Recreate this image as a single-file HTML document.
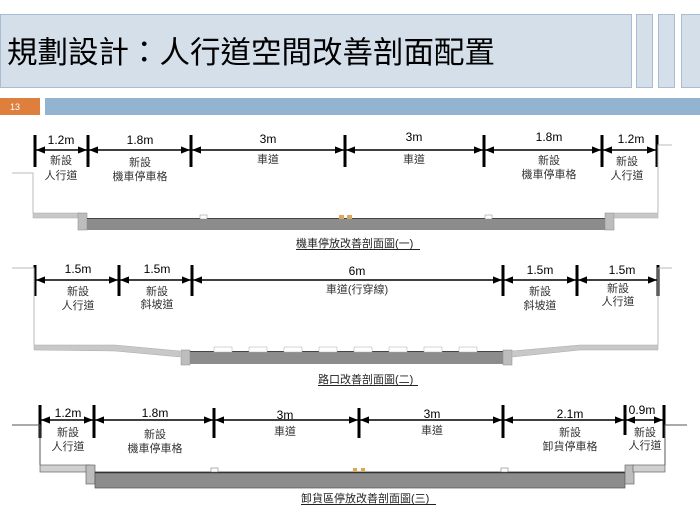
<!DOCTYPE html>
<html><head><meta charset="utf-8"><style>
html,body{margin:0;padding:0;background:#fff;width:700px;height:525px;overflow:hidden}
svg{display:block}
text{font-family:"Liberation Sans","Noto Sans CJK TC",sans-serif}
</style></head><body>
<svg width="700" height="525" viewBox="0 0 700 525" xmlns="http://www.w3.org/2000/svg">
<defs>
<marker id="a" viewBox="0 0 10 10" refX="10" refY="5" markerWidth="6" markerHeight="6" orient="auto-start-reverse"><path d="M0,1 L10,5 L0,9 z" fill="#000"/></marker>
</defs>
<rect x="0.5" y="14.5" width="631" height="73" fill="#d5dfea" stroke="#a9bdd2"/>
<rect x="636.5" y="14.5" width="16" height="73" fill="#d5dfea" stroke="#a9bdd2"/>
<rect x="658.5" y="14.5" width="16" height="73" fill="#d5dfea" stroke="#a9bdd2"/>
<rect x="681.5" y="14.5" width="19" height="73" fill="#d5dfea" stroke="#a9bdd2"/>
<text x="7" y="63" font-size="30.5" fill="#000">規劃設計：人行道空間改善剖面配置</text>
<rect x="0" y="98" width="40" height="17" fill="#df7f3e"/>
<text x="10" y="110" font-size="9" fill="#fff">13</text>
<rect x="45" y="98" width="655" height="17" fill="#93b4d1"/>

<g stroke="#000" stroke-width="3">
<line x1="35" y1="135" x2="35" y2="167"/><line x1="88" y1="135" x2="88" y2="167"/><line x1="191" y1="135" x2="191" y2="167"/><line x1="345" y1="135" x2="345" y2="167"/><line x1="484" y1="135" x2="484" y2="167"/><line x1="602" y1="135" x2="602" y2="167"/><line x1="657" y1="135" x2="657" y2="167"/>
<line x1="35" y1="265" x2="35" y2="296"/><line x1="119" y1="265" x2="119" y2="296"/><line x1="192" y1="265" x2="192" y2="296"/><line x1="503" y1="265" x2="503" y2="296"/><line x1="577" y1="265" x2="577" y2="296"/><line x1="658" y1="265" x2="658" y2="296"/>
<line x1="40" y1="405" x2="40" y2="438"/><line x1="94" y1="405" x2="94" y2="438"/><line x1="214" y1="408" x2="214" y2="438"/><line x1="359" y1="408" x2="359" y2="438"/><line x1="503" y1="405" x2="503" y2="438"/><line x1="625" y1="405" x2="625" y2="435"/><line x1="664" y1="405" x2="664" y2="438"/>
</g>
<g stroke="#000" stroke-width="1.5" marker-start="url(#a)" marker-end="url(#a)">
<line x1="36" y1="150" x2="87" y2="150"/><line x1="89" y1="150" x2="190" y2="150"/><line x1="192" y1="150" x2="344" y2="150"/><line x1="346" y1="150" x2="483" y2="150"/><line x1="485" y1="150" x2="601" y2="150"/><line x1="603" y1="150" x2="656" y2="150"/>
<line x1="36" y1="280" x2="118" y2="280"/><line x1="120" y1="280" x2="191" y2="280"/><line x1="193" y1="280" x2="502" y2="280"/><line x1="504" y1="280" x2="576" y2="280"/><line x1="578" y1="280" x2="657" y2="280"/>
<line x1="41" y1="420" x2="93" y2="420"/><line x1="95" y1="420" x2="213" y2="420"/><line x1="215" y1="420" x2="358" y2="420"/><line x1="360" y1="420" x2="502" y2="420"/><line x1="504" y1="420" x2="624" y2="420"/><line x1="626" y1="420" x2="663" y2="420"/>
</g>
<g font-size="12" fill="#000" text-anchor="middle">
<text x="61" y="144">1.2m</text><text x="140" y="144">1.8m</text><text x="268" y="143">3m</text><text x="414" y="141">3m</text><text x="549" y="141">1.8m</text><text x="631" y="143">1.2m</text>
<text x="78" y="273">1.5m</text><text x="157" y="273">1.5m</text><text x="357" y="275">6m</text><text x="540" y="274">1.5m</text><text x="622" y="274">1.5m</text>
<text x="68" y="417">1.2m</text><text x="155" y="417">1.8m</text><text x="285" y="419">3m</text><text x="432" y="418">3m</text><text x="570" y="418">2.1m</text><text x="642" y="414">0.9m</text>
</g>
<g font-size="11" fill="#333" text-anchor="middle">
<text x="61" y="164">新設</text><text x="61" y="179">人行道</text>
<text x="140" y="166">新設</text><text x="140" y="180">機車停車格</text>
<text x="268" y="163">車道</text><text x="414" y="163">車道</text>
<text x="549" y="164">新設</text><text x="549" y="178">機車停車格</text>
<text x="627" y="165">新設</text><text x="627" y="179">人行道</text>
<text x="78" y="295">新設</text><text x="78" y="309">人行道</text>
<text x="157" y="295">新設</text><text x="157" y="308">斜坡道</text>
<text x="357" y="293">車道(行穿線)</text>
<text x="540" y="295">新設</text><text x="540" y="309">斜坡道</text>
<text x="618" y="292">新設</text><text x="618" y="305">人行道</text>
<text x="68" y="436">新設</text><text x="68" y="450">人行道</text>
<text x="155" y="438">新設</text><text x="155" y="452">機車停車格</text>
<text x="285" y="435">車道</text><text x="432" y="434">車道</text>
<text x="570" y="436">新設</text><text x="570" y="450">卸貨停車格</text>
<text x="645" y="436">新設</text><text x="645" y="449">人行道</text>
</g>
<g fill="none" stroke="#bbb" stroke-width="1">
<polyline points="12,173 33,173 33,213"/><polyline points="658,213 658,145 672,145"/>
<polyline points="12,268 34,268 34,345"/><polyline points="658,345 658,268 672,268"/>
</g>
<polyline points="12,425 40,425 40,465" fill="none" stroke="#555"/>
<polyline points="665,465 665,425 687,425" fill="none" stroke="#555"/>
<rect x="33" y="213" width="47" height="5" fill="#c8c8c8" stroke="#aaa" stroke-width="0.5"/>
<rect x="78" y="213" width="9" height="17" fill="#bdbdbd" stroke="#888" stroke-width="0.5"/>
<rect x="87" y="218" width="518" height="12" fill="#8c8c8c"/>
<line x1="87" y1="218.5" x2="605" y2="218.5" stroke="#444"/>
<rect x="605" y="213" width="9" height="17" fill="#bdbdbd" stroke="#888" stroke-width="0.5"/>
<rect x="614" y="213" width="44" height="5" fill="#c8c8c8" stroke="#aaa" stroke-width="0.5"/>
<rect x="200" y="215" width="7" height="4" fill="#fff" stroke="#888" stroke-width="0.5"/>
<rect x="485" y="215" width="7" height="4" fill="#fff" stroke="#888" stroke-width="0.5"/>
<rect x="339" y="215" width="5" height="4" fill="#d9a85a"/><rect x="347" y="215" width="5" height="4" fill="#d9a85a"/>
<polygon points="34,345 115,345 180,351 180,357 115,351 34,350" fill="#c8c8c8" stroke="#aaa" stroke-width="0.5"/>
<rect x="181" y="350" width="9" height="15" fill="#bdbdbd" stroke="#888" stroke-width="0.5"/>
<rect x="190" y="351" width="315" height="13" fill="#8c8c8c"/>
<line x1="190" y1="351.5" x2="505" y2="351.5" stroke="#444"/>
<g fill="#fff" stroke="#aaa" stroke-width="0.5">
<rect x="214" y="347" width="18" height="5"/><rect x="249" y="347" width="18" height="5"/><rect x="284" y="347" width="18" height="5"/><rect x="319" y="347" width="18" height="5"/><rect x="354" y="347" width="18" height="5"/><rect x="389" y="347" width="18" height="5"/><rect x="424" y="347" width="18" height="5"/><rect x="459" y="347" width="18" height="5"/>
</g>
<rect x="503" y="350" width="9" height="15" fill="#bdbdbd" stroke="#888" stroke-width="0.5"/>
<polygon points="512,351 580,345 658,345 658,350 580,350 512,357" fill="#c8c8c8" stroke="#aaa" stroke-width="0.5"/>
<rect x="40" y="465" width="50" height="7" fill="#d0d0d0" stroke="#666" stroke-width="0.7"/>
<rect x="86" y="465" width="9" height="19" fill="#bdbdbd" stroke="#666" stroke-width="0.7"/>
<rect x="95" y="472" width="530" height="16" fill="#8c8c8c" stroke="#555" stroke-width="0.7"/>
<line x1="95" y1="472.5" x2="625" y2="472.5" stroke="#333" stroke-width="1.5"/>
<rect x="625" y="465" width="9" height="19" fill="#bdbdbd" stroke="#666" stroke-width="0.7"/>
<rect x="633" y="465" width="32" height="7" fill="#d0d0d0" stroke="#666" stroke-width="0.7"/>
<rect x="211" y="468" width="7" height="4" fill="#fff" stroke="#666" stroke-width="0.5"/>
<rect x="501" y="468" width="7" height="4" fill="#fff" stroke="#666" stroke-width="0.5"/>
<rect x="353" y="468" width="4" height="4" fill="#d9a85a"/><rect x="361" y="468" width="4" height="4" fill="#d9a85a"/>
<g font-size="11" fill="#222">
<text x="296" y="247">機車停放改善剖面圖(一)</text><line x1="296" y1="249.5" x2="420" y2="249.5" stroke="#222"/>
<text x="318" y="383">路口改善剖面圖(二)</text><line x1="318" y1="385.5" x2="418" y2="385.5" stroke="#222"/>
<text x="301" y="502">卸貨區停放改善剖面圖(三)</text><line x1="301" y1="504.5" x2="436" y2="504.5" stroke="#222"/>
</g>
</svg>
</body></html>
